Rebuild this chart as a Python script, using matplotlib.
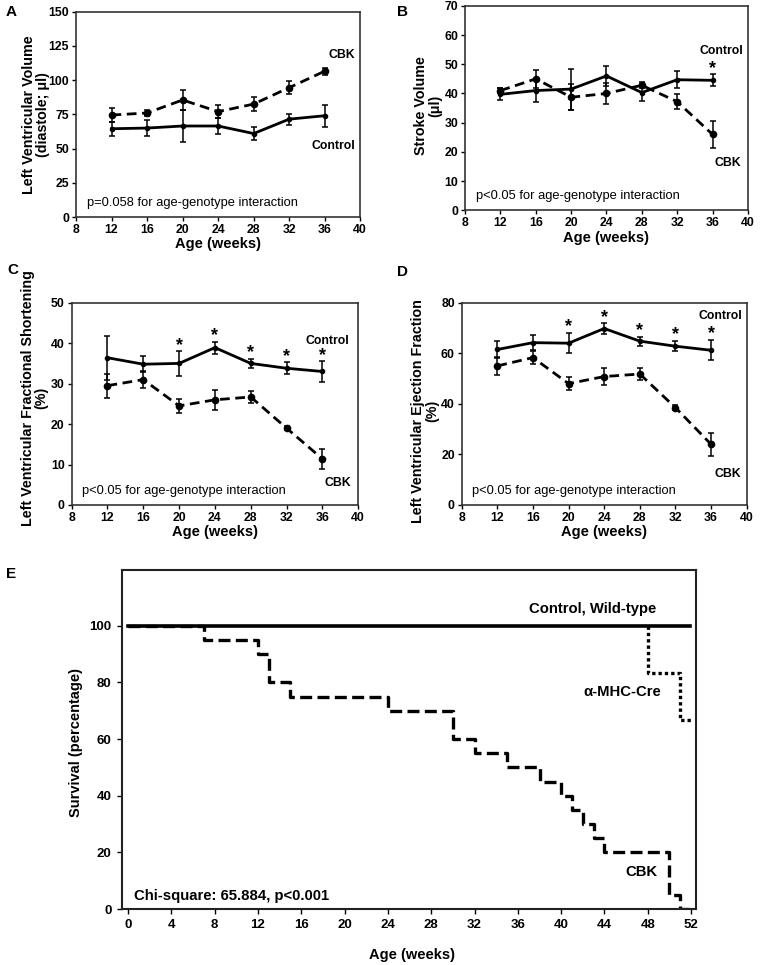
import matplotlib
matplotlib.use('Agg')
import matplotlib.pyplot as plt

plt.rcParams['font.family'] = ['Liberation Sans', 'DejaVu Sans']
plt.rcParams['font.weight'] = 'bold'
plt.rcParams['axes.labelweight'] = 'bold'

weeks = [12, 16, 20, 24, 28, 32, 36]

# A: LV volume (diastole)
lvv_ctrl = [64.5, 65, 66.5, 66.5, 61, 71.5, 74]
lvv_ctrl_err = [5, 6, 12, 5.5, 4.5, 4, 8]
lvv_cbk = [74.5, 76, 85.5, 77, 82.5, 94.5, 106.5]
lvv_cbk_err = [5, 2, 7, 5, 5, 4.5, 2.5]

# B: stroke volume
sv_ctrl = [39.7, 41, 41.5, 46, 40.3, 44.7, 44.5]
sv_ctrl_err = [2, 4, 7, 3.5, 3, 3, 2]
sv_cbk = [41, 45, 38.7, 40, 42.8, 37.2, 26]
sv_cbk_err = [1, 3, 4.5, 3.5, 1, 2.5, 4.5]

# C: fractional shortening
fs_ctrl = [36.4, 34.8, 35, 38.9, 35, 33.8, 33]
fs_ctrl_err = [5.4, 2, 3, 1.5, 1.2, 1.5, 2.5]
fs_cbk = [29.5, 31, 24.5, 26, 26.7, 19, 11.4]
fs_cbk_err = [3, 2, 1.8, 2.5, 1.5, 0.5, 2.5]

# D: ejection fraction
ef_ctrl = [61.5, 64.2, 64, 69.8, 64.8, 62.8, 61.2]
ef_ctrl_err = [3.3, 3, 4, 2, 1.8, 2, 4]
ef_cbk = [55, 58.3, 48, 50.8, 51.8, 38.5, 24]
ef_cbk_err = [3.5, 2.5, 2.5, 3.5, 2.5, 1, 4.5]

# E: survival
cbk_t = [0, 7, 12, 13, 15, 24, 30, 32, 35, 38, 40, 41, 42, 43, 44, 50, 51, 51.8]
cbk_s = [100, 95, 90, 80, 75, 70, 60, 55, 50, 45, 40, 35, 30, 25, 20, 5, 0, 0]
cre_t = [48, 48, 51, 52]
cre_s = [100, 83.3, 66.7, 66.7]
wt_t = [0, 51.9]
wt_s = [100, 100]


def panel(ax, ctrl, ctrl_err, cbk, cbk_err, ymax, ystep, ylabel, ptext,
          ctrl_xy, cbk_xy, star_weeks, ylab_xy):
    ax.errorbar(weeks, ctrl, yerr=ctrl_err, color='black', lw=2, marker='o',
                ms=3, capsize=2, elinewidth=1.1, capthick=1.1)
    ax.errorbar(weeks, cbk, yerr=cbk_err, color='black', lw=2, ls=(0, (3.5, 2)),
                marker='o', ms=4.5, capsize=2, elinewidth=1.1, capthick=1.1)
    ax.set_xlim(8, 40)
    ax.set_xticks(range(8, 41, 4))
    ax.set_ylim(0, ymax)
    ax.set_yticks(range(0, ymax + 1, ystep))
    ax.tick_params(labelsize=8.8, length=3, width=1, pad=2)
    for s in ax.spines.values():
        s.set_linewidth(1.2)
        s.set_color('#333333')
    ax.set_xlabel('Age (weeks)', fontsize=10.5, labelpad=1)
    ax.set_ylabel(ylabel, fontsize=10.3, linespacing=1.0)
    ax.yaxis.set_label_coords(ylab_xy[0], ylab_xy[1])
    ax.text(9.2, ymax * 0.07, ptext, fontsize=9.3, fontweight='normal', va='center')
    ax.text(ctrl_xy[0], ctrl_xy[1], 'Control', fontsize=8.8, ha='center', va='center')
    ax.text(cbk_xy[0], cbk_xy[1], 'CBK', fontsize=8.8, ha='center', va='center')
    for w in star_weeks:
        i = weeks.index(w)
        ax.text(w, ctrl[i] + ctrl_err[i] + ymax * 0.03, '*', fontsize=13,
                ha='center', va='center')


fig = plt.figure(figsize=(7.6, 9.65), dpi=100)

axA = fig.add_axes([0.100, 0.775, 0.374, 0.213])
panel(axA, lvv_ctrl, lvv_ctrl_err, lvv_cbk, lvv_cbk_err, 150, 25,
      'Left Ventricular Volume\n(diastole; \u03bcl)',
      'p=0.058 for age-genotype interaction', (37.0, 52), (37.9, 118), [],
      (-0.09, 0.5))

axB = fig.add_axes([0.612, 0.782, 0.372, 0.212])
panel(axB, sv_ctrl, sv_ctrl_err, sv_cbk, sv_cbk_err, 70, 10,
      'Stroke Volume\n(\u03bcl)',
      'p<0.05 for age-genotype interaction', (37.0, 54.6), (37.7, 16.2), [36],
      (-0.082, 0.51))

axC = fig.add_axes([0.0943, 0.4767, 0.377, 0.2096])
panel(axC, fs_ctrl, fs_ctrl_err, fs_cbk, fs_cbk_err, 50, 10,
      'Left Ventricular Fractional Shortening\n(%)',
      'p<0.05 for age-genotype interaction', (36.6, 40.5), (37.7, 5.4),
      [20, 24, 28, 32, 36], (-0.08, 0.53))

axD = fig.add_axes([0.6075, 0.4767, 0.375, 0.2096])
panel(axD, ef_ctrl, ef_ctrl_err, ef_cbk, ef_cbk_err, 80, 20,
      'Left Ventricular Ejection Fraction\n(%)',
      'p<0.05 for age-genotype interaction', (37.0, 74.6), (37.9, 12.3),
      [20, 24, 28, 32, 36], (-0.08, 0.465))

axE = fig.add_axes([0.1605, 0.058, 0.7553, 0.3513])
axE.step(cbk_t, cbk_s, where='post', color='black', lw=2.4, ls=(0, (3.6, 1.6)))
axE.step(cre_t, cre_s, where='post', color='black', lw=2.4, ls=(0, (1, 0.9)))
axE.plot(wt_t, wt_s, color='black', lw=2.6)
axE.set_xlim(-0.55, 52.45)
axE.set_xticks(range(0, 53, 4))
axE.set_ylim(0, 119.7)
axE.set_yticks(range(0, 101, 20))
axE.tick_params(labelsize=9.5, length=3.5, width=1, pad=4)
for s in axE.spines.values():
    s.set_linewidth(1.5)
    s.set_color('#222222')
axE.set_xlabel('Age (weeks)', fontsize=10.5)
axE.xaxis.set_label_coords(0.505, -0.115)
axE.set_ylabel('Survival (percentage)', fontsize=10.5)
axE.yaxis.set_label_coords(-0.068, 0.49)
axE.text(42.9, 105.9, 'Control, Wild-type', fontsize=10.7, ha='center', va='center')
axE.text(45.6, 76.7, '\u03b1-MHC-Cre', fontsize=10.7, ha='center', va='center')
axE.text(47.4, 13, 'CBK', fontsize=10.7, ha='center', va='center')
axE.text(0.6, 4.5, 'Chi-square: 65.884, p<0.001', fontsize=10.7, va='center')

for lab, x, y in [('A', 0.008, 0.988), ('B', 0.522, 0.988), ('C', 0.010, 0.720),
                  ('D', 0.522, 0.718), ('E', 0.008, 0.405)]:
    fig.text(x, y, lab, fontsize=11, fontweight='bold', va='center')

fig.savefig('out.png', dpi=100)
